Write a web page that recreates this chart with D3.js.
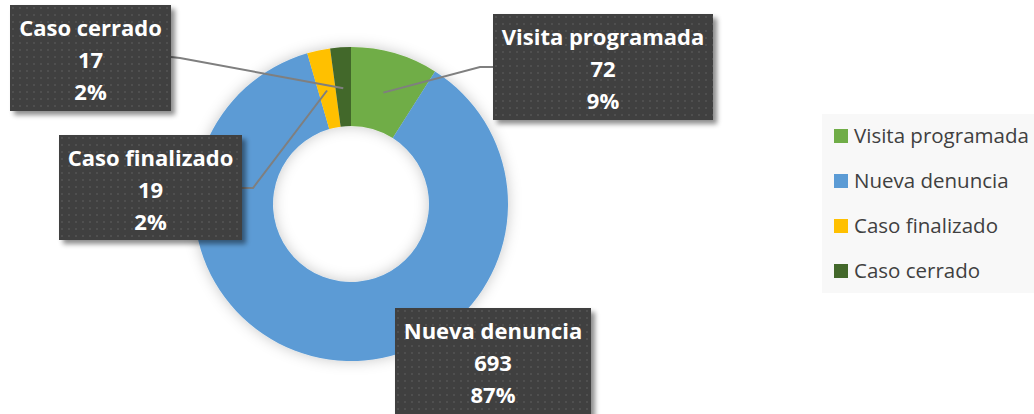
<!DOCTYPE html>
<html>
<head>
<meta charset="utf-8">
<script src="https://cdn.jsdelivr.net/npm/d3@7"></script>
<style>
  body { margin: 0; background: #fff; }
  svg { display: block; font-family: "Open Sans", Lato, sans-serif; }
</style>
</head>
<body>
<svg class="chart"></svg>
<script>
var categories = ["Visita programada", "Nueva denuncia", "Caso finalizado", "Caso cerrado"];
var values = [72, 693, 19, 17];
var colors = ["#70AD47", "#5B9BD5", "#FFC000", "#43682B"];

var width = 1034,
    height = 414;

// label boxes: x, y, w, h and leader line elbow/end (null = no leader)
var boxes = [
  {x: 493, y: 14, w: 220, h: 106, elbow: [480, 67], end: [493, 67]},
  {x: 395, y: 308, w: 196, h: 108, elbow: null, end: null},
  {x: 59, y: 135, w: 183, h: 105, elbow: [253, 188], end: [242, 188]},
  {x: 10, y: 5, w: 161, h: 106, elbow: [180, 58], end: [171, 57]}
];

var cx = 351, cy = 204, rOuter = 157, rInner = 78;

var total = d3.sum(values);
var pct = d3.format(".0%");

var data = categories.map(function(c, i) {
  return {name: c, value: values[i], color: colors[i], box: boxes[i]};
});

var chart = d3.select(".chart")
    .attr("width", width)
    .attr("height", height);

var defs = chart.append("defs");

var glow = defs.append("filter").attr("id", "glow")
    .attr("x", "-30%").attr("y", "-30%").attr("width", "160%").attr("height", "160%");
glow.append("feGaussianBlur").attr("in", "SourceAlpha").attr("stdDeviation", 7).attr("result", "b");
glow.append("feFlood").attr("flood-color", "#000").attr("flood-opacity", 0.22).attr("result", "c");
glow.append("feComposite").attr("in", "c").attr("in2", "b").attr("operator", "in").attr("result", "s");
var gm = glow.append("feMerge");
gm.append("feMergeNode").attr("in", "s");
gm.append("feMergeNode").attr("in", "SourceGraphic");

var shadow = defs.append("filter").attr("id", "boxshadow")
    .attr("x", "-10%").attr("y", "-10%").attr("width", "130%").attr("height", "130%");
shadow.append("feGaussianBlur").attr("in", "SourceAlpha").attr("stdDeviation", 2.5).attr("result", "b");
shadow.append("feOffset").attr("in", "b").attr("dx", 4).attr("dy", 4).attr("result", "o");
shadow.append("feFlood").attr("flood-color", "#000").attr("flood-opacity", 0.45).attr("result", "c");
shadow.append("feComposite").attr("in", "c").attr("in2", "o").attr("operator", "in").attr("result", "s");
var sm = shadow.append("feMerge");
sm.append("feMergeNode").attr("in", "s");
sm.append("feMergeNode").attr("in", "SourceGraphic");

var pat = defs.append("pattern").attr("id", "dots")
    .attr("width", 7).attr("height", 7).attr("patternUnits", "userSpaceOnUse");
pat.append("rect").attr("width", 7).attr("height", 7).attr("fill", "#3F3F3F");
pat.append("rect").attr("x", 2).attr("y", 2).attr("width", 2).attr("height", 2).attr("fill", "#4F4F4F");
pat.append("rect").attr("x", 5.5).attr("y", 5.5).attr("width", 1).attr("height", 1).attr("fill", "#474747");

var pie = d3.pie().sort(null).value(function(d) { return d.value; });
var arc = d3.arc().innerRadius(rInner).outerRadius(rOuter);
var mid = d3.arc().innerRadius(116).outerRadius(116);

var arcs = pie(data);

var donut = chart.append("g")
    .attr("transform", "translate(" + cx + "," + cy + ")")
    .attr("filter", "url(#glow)");

donut.selectAll("path")
    .data(arcs)
  .enter().append("path")
    .attr("d", arc)
    .attr("fill", function(d) { return d.data.color; });

// leader lines
chart.append("g").selectAll("polyline")
    .data(arcs.filter(function(d) { return d.data.box.elbow; }))
  .enter().append("polyline")
    .attr("fill", "none")
    .attr("stroke", "#7F7F7F")
    .attr("stroke-width", 2)
    .attr("points", function(d) {
      var c = mid.centroid(d);
      return [[cx + c[0], cy + c[1]], d.data.box.elbow, d.data.box.end].join(" ");
    });

// label boxes
var lab = chart.append("g").selectAll("g")
    .data(arcs)
  .enter().append("g")
    .attr("transform", function(d) { return "translate(" + d.data.box.x + "," + d.data.box.y + ")"; });

lab.append("rect")
    .attr("width", function(d) { return d.data.box.w; })
    .attr("height", function(d) { return d.data.box.h; })
    .attr("fill", "url(#dots)")
    .attr("filter", "url(#boxshadow)");

lab.each(function(d) {
  var g = d3.select(this);
  var lines = [d.data.name, d.data.value, pct(d.data.value / total)];
  lines.forEach(function(t, i) {
    g.append("text")
      .attr("x", d.data.box.w / 2)
      .attr("y", 31 + i * 32)
      .attr("text-anchor", "middle")
      .attr("fill", "#fff")
      .attr("font-weight", "bold")
      .attr("font-size", "22px")
      .text(t);
  });
});

// legend
var legend = chart.append("g").attr("transform", "translate(822,114)");
legend.append("rect")
    .attr("width", 212)
    .attr("height", 179)
    .attr("fill", "#F8F8F8");

var item = legend.selectAll("g.item")
    .data(data)
  .enter().append("g")
    .attr("class", "item")
    .attr("transform", function(d, i) { return "translate(12," + (22 + i * 45) + ")"; });

item.append("rect")
    .attr("y", -7)
    .attr("width", 14)
    .attr("height", 14)
    .attr("fill", function(d) { return d.color; });

item.append("text")
    .attr("x", 20)
    .attr("dy", "0.35em")
    .attr("fill", "#404040")
    .attr("font-size", "20.5px")
    .text(function(d) { return d.name; });
</script>
</body>
</html>
